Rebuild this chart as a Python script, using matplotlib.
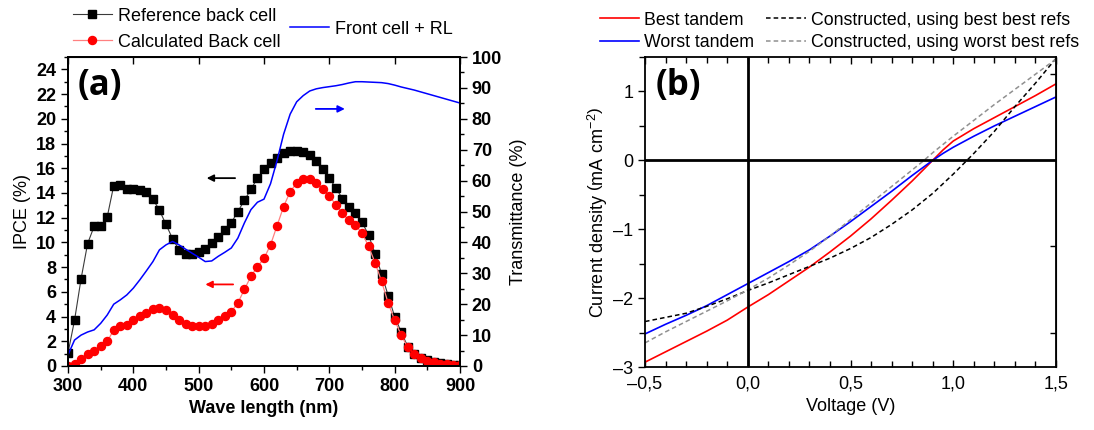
import matplotlib
matplotlib.use("Agg")
import matplotlib.pyplot as plt
import numpy as np
from matplotlib.ticker import MultipleLocator, FixedLocator, FuncFormatter, NullFormatter

plt.rcParams['font.family'] = ['Liberation Sans', 'DejaVu Sans']
plt.rcParams['mathtext.fontset'] = 'custom'
plt.rcParams['mathtext.rm'] = 'Liberation Sans'

# ---------------- Panel (a) data ----------------
wl = list(range(300, 901, 10))
ref_back = [1.05, 3.7, 7.05, 9.9, 11.3, 11.3, 12.05, 14.6, 14.65, 14.3,
            14.3, 14.25, 14.05, 13.5, 12.6, 11.45, 10.3, 9.4, 9.1, 9.05,
            9.25, 9.5, 9.95, 10.45, 11.0, 11.6, 12.5, 13.4, 14.3, 15.2,
            15.9, 16.4, 16.8, 17.2, 17.4, 17.4, 17.3, 17.1, 16.6, 15.9,
            15.2, 14.4, 13.55, 12.85, 12.4, 11.65, 10.6, 9.1, 7.45, 5.7,
            4.0, 2.75, 1.57, 1.0, 0.62, 0.45, 0.33, 0.25, 0.18, 0.12, 0.08]
calc_back = [0.0, 0.15, 0.6, 1.0, 1.25, 1.6, 2.0, 2.9, 3.2, 3.35,
             3.7, 4.05, 4.3, 4.6, 4.7, 4.55, 4.15, 3.7, 3.4, 3.25,
             3.2, 3.2, 3.4, 3.75, 4.05, 4.4, 5.1, 6.2, 7.25, 8.05,
             8.7, 9.8, 11.35, 12.9, 14.1, 14.8, 15.1, 15.15, 14.8, 14.35,
             13.75, 13.05, 12.35, 11.8, 11.4, 10.75, 9.7, 8.35, 6.85, 5.1,
             3.7, 2.5, 1.5, 1.0, 0.62, 0.42, 0.3, 0.2, 0.15, 0.1, 0.07]
front_T = [3.6, 8.4, 10.0, 11.0, 11.7, 13.8, 16.5, 20.0, 21.4, 23.0,
           25.2, 27.9, 30.8, 33.8, 37.6, 39.2, 40.3, 39.2, 37.8, 36.5,
           35.2, 33.8, 34.0, 35.5, 36.8, 38.2, 41.4, 46.3, 50.6, 53.0,
           54.0, 59.0, 66.5, 75.0, 81.5, 85.5, 87.5, 89.0, 89.7, 90.1,
           90.4, 90.7, 91.1, 91.6, 92.0, 92.0, 91.9, 91.8, 91.7, 91.4,
           90.9, 90.3, 89.8, 89.3, 88.7, 88.1, 87.5, 86.9, 86.3, 85.7, 85.1]

# ---------------- Panel (b) data ----------------
volt = [-0.5, -0.4, -0.3, -0.2, -0.1, 0.0, 0.1, 0.2, 0.3, 0.4, 0.5,
        0.6, 0.7, 0.8, 0.85, 0.9, 0.95, 1.0, 1.1, 1.2, 1.3, 1.4, 1.5]
best_tandem = [-2.93, -2.78, -2.63, -2.48, -2.32, -2.13, -1.95, -1.75, -1.55, -1.33, -1.10,
               -0.85, -0.58, -0.30, -0.15, 0.0, 0.15, 0.28, 0.46, 0.62, 0.78, 0.94, 1.11]
worst_tandem = [-2.52, -2.38, -2.25, -2.11, -1.95, -1.79, -1.63, -1.47, -1.30, -1.10, -0.89,
                -0.67, -0.45, -0.22, -0.11, 0.0, 0.10, 0.19, 0.35, 0.50, 0.64, 0.78, 0.92]
constr_best = [-2.34, -2.28, -2.22, -2.12, -2.01, -1.89, -1.78, -1.66, -1.54, -1.42, -1.28,
               -1.12, -0.93, -0.72, -0.60, -0.48, -0.34, -0.20, 0.10, 0.42, 0.78, 1.12, 1.48]
constr_worst = [-2.65, -2.49, -2.34, -2.19, -2.04, -1.88, -1.71, -1.52, -1.32, -1.10, -0.86,
                -0.62, -0.38, -0.14, -0.02, 0.11, 0.23, 0.35, 0.58, 0.81, 1.03, 1.25, 1.47]

W, H = 1094, 430
fig = plt.figure(figsize=(W / 100, H / 100), dpi=100)

def rect(x0, y0, x1, y1):
    return [x0 / W, 1 - y1 / H, (x1 - x0) / W, (y1 - y0) / H]

TFS = 13

# ================= Panel (a) =================
ax = fig.add_axes(rect(68, 57, 460, 366))
ax2 = ax.twinx()
l1, = ax.plot(wl, ref_back, color='#3a3a3a', lw=0.8, marker='s', ms=5.5,
              mfc='black', mec='black', label='Reference back cell')
l2, = ax.plot(wl, calc_back, color='#ff8080', lw=0.9, marker='o', ms=5.8,
              mfc='#ff0000', mec='#ff0000', label='Calculated Back cell')
l3, = ax2.plot(wl, front_T, color='#0000ff', lw=1.1, label='Front cell + RL')
ax.set_xlim(300, 900)
ax.set_ylim(0, 25)
ax2.set_ylim(0, 100)
ax.xaxis.set_major_locator(MultipleLocator(100))
ax.xaxis.set_minor_locator(MultipleLocator(50))
ax.yaxis.set_major_locator(FixedLocator(np.arange(0, 25, 2)))
ax.yaxis.set_minor_locator(MultipleLocator(1))
ax2.yaxis.set_major_locator(MultipleLocator(10))
ax2.yaxis.set_minor_locator(MultipleLocator(5))
ax.tick_params(which='both', direction='out', labelsize=TFS, width=1.0)
ax.tick_params(which='major', length=5)
ax.tick_params(which='minor', length=3)
ax2.tick_params(which='both', direction='out', labelsize=TFS, width=1.0)
ax2.tick_params(which='major', length=5)
ax2.tick_params(which='minor', length=3)
for lab in ax.get_xticklabels() + ax.get_yticklabels() + ax2.get_yticklabels():
    lab.set_fontweight('bold')
for sp in list(ax.spines.values()) + list(ax2.spines.values()):
    sp.set_linewidth(1.3)
topa = ax.secondary_xaxis('top')
topa.xaxis.set_major_locator(MultipleLocator(100))
topa.xaxis.set_major_formatter(NullFormatter())
topa.tick_params(direction='in', length=5, width=1.0)
ax.set_xlabel('Wave length (nm)', fontsize=TFS, fontweight='bold', labelpad=4)
ax.set_ylabel('IPCE (%)', fontsize=TFS, labelpad=4)
ax2.set_ylabel('Transmittance (%)', fontsize=TFS, labelpad=6)
ax.text(0.025, 0.965, '(a)', transform=ax.transAxes, fontsize=25, fontweight='bold',
        family=['Open Sans', 'DejaVu Sans'], va='top', ha='left')

# arrows
ax.annotate('', xy=(508, 15.2), xytext=(560, 15.2),
            arrowprops=dict(arrowstyle='-|>', color='black', lw=1.3, mutation_scale=10))
ax.annotate('', xy=(506, 6.6), xytext=(557, 6.6),
            arrowprops=dict(arrowstyle='-|>', color='#ff0000', lw=1.3, mutation_scale=10))
ax2.annotate('', xy=(728, 83.2), xytext=(675, 83.2),
             arrowprops=dict(arrowstyle='-|>', color='#0000ff', lw=1.3, mutation_scale=10))

fig.legend(handles=[l1, l2], loc='upper left', bbox_to_anchor=(69 / W, 1 - 4 / H),
           frameon=False, fontsize=TFS, handlelength=2.2, handletextpad=0.3,
           labelspacing=0.5, borderpad=0.2, borderaxespad=0)
fig.legend(handles=[l3], loc='upper left', bbox_to_anchor=(286 / W, 1 - 17 / H),
           frameon=False, fontsize=TFS, handlelength=2.2, handletextpad=0.3,
           borderpad=0.2, borderaxespad=0)

# ================= Panel (b) =================
bx = fig.add_axes(rect(645, 57, 1056, 367))
m1, = bx.plot(volt, best_tandem, color='#ff0000', lw=1.2, label='Best tandem')
m2, = bx.plot(volt, worst_tandem, color='#0000ff', lw=1.2, label='Worst tandem')
m3, = bx.plot(volt, constr_best, color='black', lw=1.1, ls=(0, (3, 2)),
              label='Constructed, using best best refs')
m4, = bx.plot(volt, constr_worst, color='#909090', lw=1.1, ls=(0, (3, 2)),
              label='Constructed, using worst best refs')
bx.axhline(0, color='black', lw=2)
bx.axvline(0, color='black', lw=2)
bx.set_xlim(-0.5, 1.5)
bx.set_ylim(-3, 1.5)
bx.xaxis.set_major_locator(MultipleLocator(0.5))
bx.xaxis.set_minor_locator(MultipleLocator(0.1))
bx.yaxis.set_major_locator(MultipleLocator(1))
bx.yaxis.set_minor_locator(MultipleLocator(0.5))
bx.xaxis.set_major_formatter(FuncFormatter(lambda v, p: ('%.1f' % v).replace('.', ',').replace('-', '\u2013')))
bx.yaxis.set_major_formatter(FuncFormatter(lambda v, p: ('%d' % round(v)).replace('-', '\u2013')))
bx.tick_params(axis='x', which='both', direction='in', labelsize=TFS, width=1.0, top=True, pad=6)
bx.tick_params(axis='y', which='both', direction='out', labelsize=TFS, width=1.0)
bx.tick_params(which='major', length=5)
bx.tick_params(which='minor', length=4)
rb = bx.secondary_yaxis('right')
rb.yaxis.set_major_locator(FixedLocator([-2.5, -1.25, 1.25]))
rb.yaxis.set_major_formatter(NullFormatter())
rb.tick_params(direction='in', length=4, width=1.0)
for sp in bx.spines.values():
    sp.set_linewidth(1.3)
bx.set_xlabel('Voltage (V)', fontsize=TFS, labelpad=4)
bx.set_ylabel(r'Current density $\left(\mathrm{mA\ cm^{-2}}\right)$', fontsize=TFS, labelpad=2)
bx.text(0.025, 0.965, '(b)', transform=bx.transAxes, fontsize=25, fontweight='bold',
        family=['Open Sans', 'DejaVu Sans'], va='top', ha='left')

fig.legend(handles=[m1, m2, m3, m4], loc='upper left', bbox_to_anchor=(596 / W, 1 - 8 / H),
           ncol=2, frameon=False, fontsize=12.8, handlelength=2.2, handletextpad=0.3,
           labelspacing=0.3, columnspacing=0.7, borderpad=0.2, borderaxespad=0)

fig.savefig('out.png', dpi=100)
